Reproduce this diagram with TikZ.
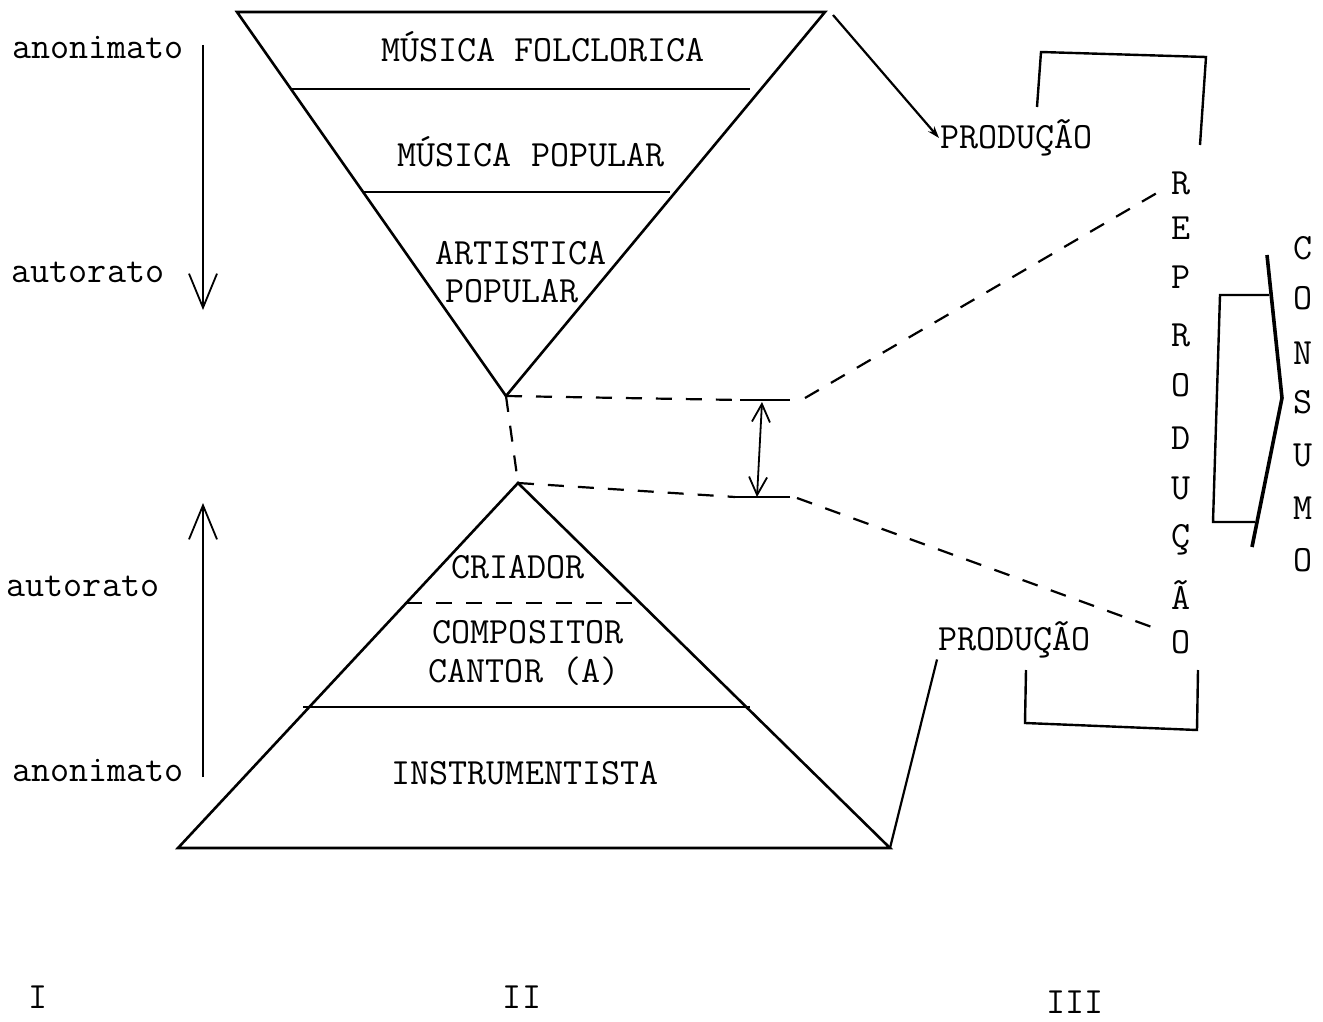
\documentclass[tikz,border=0pt]{standalone}
\usepackage{fontspec}
\usetikzlibrary{arrows.meta}
\begin{document}
\begin{tikzpicture}[x=0.5pt,y=-0.5pt,line width=1.2pt,
  txt/.style={font=\ttfamily\fontsize{18.5}{16}\selectfont,inner sep=0pt},
  tri/.style={line width=1.3pt},
  dsh/.style={dash pattern=on 8pt off 7pt,line width=1.1pt},
  bigarrow/.style={-{Straight Barb[length=17pt,width=14pt,line width=0.9pt]},line width=0.9pt},
  dbl/.style={{Straight Barb[length=9pt,width=9pt,line width=0.9pt]}-{Straight Barb[length=9pt,width=9pt,line width=0.9pt]},line width=0.9pt},
  brk/.style={line width=1.2pt}]
\useasboundingbox (0,0) rectangle (1323,1022);

% ---- top inverted triangle
\coordinate (tL) at (237,12);
\coordinate (tR) at (825,12);
\coordinate (tA) at (506,396);
\draw[tri] (tL) -- (tR) -- (tA) -- cycle;
\coordinate (l1a) at (291,89);  \coordinate (l1b) at (750,89);
\coordinate (l2a) at (363,192); \coordinate (l2b) at (670,192);
\draw[tri] (l1a) -- (l1b);
\draw[tri] (l2a) -- (l2b);
\node[txt] (mf) at (543,47) {MÚSICA FOLCLORICA};
\node[txt] (mp) at (531,152) {MÚSICA POPULAR};
\node[txt] (ap1) at (521,253) {ARTISTICA};
\node[txt] (ap2) at (512,291) {POPULAR};

% ---- bottom triangle
\coordinate (bA) at (518,483);
\coordinate (bL) at (178,848);
\coordinate (bR) at (890,848);
\draw[tri] (bA) -- (bR) -- (bL) -- cycle;
\coordinate (d1a) at (406,603); \coordinate (d1b) at (640,603);
\draw[dsh] (d1a) -- (d1b);
\coordinate (s1a) at (303,707); \coordinate (s1b) at (750,707);
\draw[tri] (s1a) -- (s1b);
\node[txt] (cr) at (518,567) {CRIADOR};
\node[txt] (co) at (528,632) {COMPOSITOR};
\node[txt] (ca) at (524,671) {CANTOR (A)};
\node[txt] (in) at (525,773) {INSTRUMENTISTA};

% ---- dashed connectors and gap arrow
\coordinate (uT) at (790,400);
\coordinate (uT0) at (740,400);
\coordinate (uS) at (805,398);
\coordinate (uE) at (1162,190);
\coordinate (lT) at (790,497);
\coordinate (lT0) at (735,497);
\coordinate (lS) at (797,498);
\coordinate (lE) at (1160,630);
\draw[dsh] (tA) -- (uT0);
\draw[dsh] (tA) -- (bA);
\draw[dsh] (bA) -- (lT0);
\draw[brk] (uT0) -- (uT);
\draw[brk] (lT0) -- (lT);
\draw[dsh] (uS) -- (uE);
\draw[dsh] (lS) -- (lE);
\coordinate (gA) at (762,402);
\coordinate (gB) at (757,497);
\draw[dbl] (gA) -- (gB);

% ---- PRODUCAO labels and brackets
\node[txt,anchor=west] (prodT) at (939,138) {PRODUÇÃO};
\coordinate (tS) at (833,15);
\draw[line width=1.1pt,-{Stealth[length=6pt,width=4pt]}] (tS) -- (prodT.west);
\coordinate (bt1) at (1037,107); \coordinate (bt2) at (1041,52);
\coordinate (bt3) at (1206,57);  \coordinate (bt4) at (1200,145);
\draw[brk] (bt1) -- (bt2) -- (bt3) -- (bt4);

\node[txt,anchor=west] (prodB) at (937,640) {PRODUÇÃO};
\draw[line width=1.1pt] (bR) -- (prodB.south west);
\coordinate (bb1) at (1026,670); \coordinate (bb2) at (1025,723);
\coordinate (bb3) at (1197,730); \coordinate (bb4) at (1198,670);
\draw[brk] (bb1) -- (bb2) -- (bb3) -- (bb4);

% ---- REPRODUCAO column
\foreach \ch/\yy [count=\i] in {R/183,E/228,P/277,R/335,O/385,D/438,U/488,Ç/540,Ã/595,O/642}
  \node[txt] (rep\i) at (1181,\yy) {\ch};

% ---- CONSUMO column
\foreach \ch/\yy [count=\i] in {C/248,O/298,N/353,S/402,U/455,M/508,O/560}
  \node[txt] (con\i) at (1303,\yy) {\ch};

% ---- middle bracket and chevron
\coordinate (m1) at (1269,295); \coordinate (m2) at (1220,295);
\coordinate (m3) at (1213,522); \coordinate (m4) at (1255,522);
\draw[brk] (m1) -- (m2) -- (m3) -- (m4);
\coordinate (c1) at (1267,255); \coordinate (c2) at (1282,398); \coordinate (c3) at (1252,547);
\draw[line width=1.8pt] (c1) -- (c2) -- (c3);

% ---- left side
\node[txt] (an1) at (98,47) {anonimato};
\node[txt] (au1) at (88,272) {autorato};
\coordinate (a1s) at (203,45); \coordinate (a1e) at (203,310);
\draw[bigarrow] (a1s) -- (a1e);
\node[txt] (au2) at (83,586) {autorato};
\node[txt] (an2) at (98,770) {anonimato};
\coordinate (a2s) at (203,777); \coordinate (a2e) at (203,503);
\draw[bigarrow] (a2s) -- (a2e);

% ---- roman numerals
\node[txt] (r1) at (38,997) {I};
\node[txt] (r2) at (522,997) {II};
\node[txt] (r3) at (1075,1002) {III};
\end{tikzpicture}
\end{document}
